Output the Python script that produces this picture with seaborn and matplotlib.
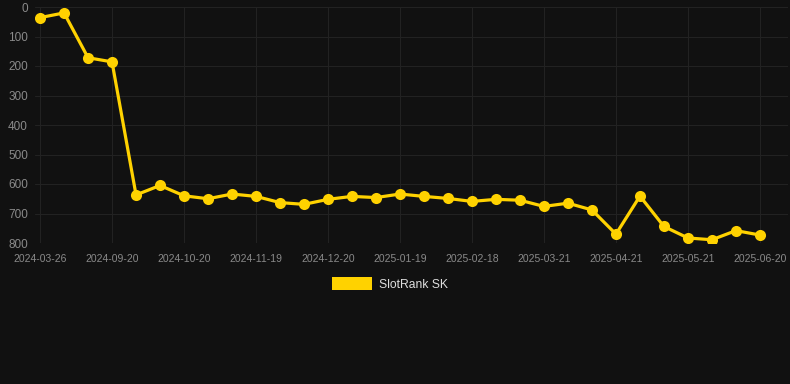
import matplotlib
matplotlib.use("Agg")
import matplotlib.pyplot as plt
import seaborn as sns
import pandas as pd
import numpy as np
from matplotlib.patches import Patch

tick_labels = ["2024-03-26", "2024-09-20", "2024-10-20", "2024-11-19", "2024-12-20",
               "2025-01-19", "2025-02-18", "2025-03-21", "2025-04-21", "2025-05-21",
               "2025-06-20"]
rank = [36, 20, 172, 186, 637, 605, 640, 650, 634, 642, 663, 669, 652, 642, 646,
        634, 642, 649, 659, 652, 655, 676, 665, 688, 770, 641, 744, 783, 789, 758, 773]
series_name = "SlotRank SK"

df = pd.DataFrame({"idx": np.arange(len(rank)), "rank": rank, "series": series_name})

bg = "#111111"
sns.set_theme(style="dark")
plt.rcParams["font.family"] = ["Liberation Sans", "DejaVu Sans"]

fig = plt.figure(figsize=(7.9, 3.84), dpi=100, facecolor=bg)
ax = fig.add_axes([35/790, (384-243)/384, 753/790, 236/384])
ax.set_facecolor(bg)

sns.lineplot(data=df, x="idx", y="rank", ax=ax, color="#FFD200", linewidth=2.3,
             marker="o", markersize=8, markeredgewidth=0, legend=False)

ax.set_xlim(-0.21, 31.17)
ax.set_ylim(800, 0)
ax.set_xticks(np.arange(0, len(rank), 3))
ax.set_xticklabels(tick_labels)
ax.set_yticks(np.arange(0, 801, 100))
ax.tick_params(axis="x", colors="#8a8a8a", labelsize=7.5, length=0, pad=8)
ax.tick_params(axis="y", colors="#8a8a8a", labelsize=8.5, length=0, pad=5)
ax.grid(True, color="#222222", linewidth=0.8)
ax.set_xlabel("")
ax.set_ylabel("")
for s in ax.spines.values():
    s.set_visible(False)

handle = Patch(facecolor="#FFD200", edgecolor="none")
leg = fig.legend([handle], [series_name], loc="center", bbox_to_anchor=(390/790, 1 - 284/384),
                 frameon=False, fontsize=8.7, handlelength=3.3, handleheight=1.2,
                 handletextpad=0.6, labelcolor="#dddddd")

fig.savefig("out.png", dpi=100, facecolor=bg)
